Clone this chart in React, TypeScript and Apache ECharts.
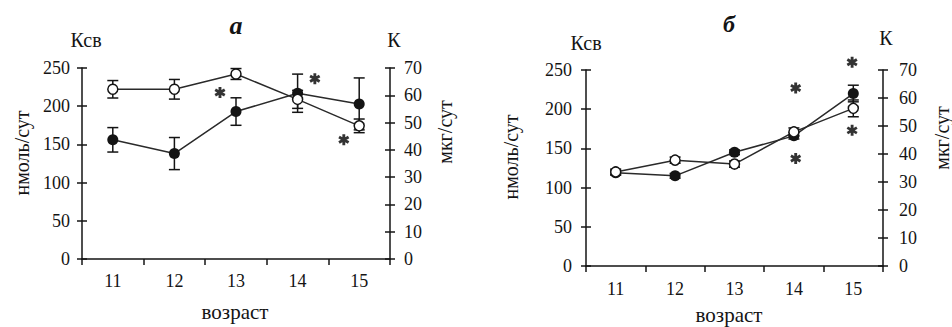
import React, { useEffect, useRef } from "react";
import * as echarts from "echarts";

const categories = ["11", "12", "13", "14", "15"];

// panel а (left axis: Ксв, нмоль/сут ; right axis: К, мкг/сут)
const aKsv = [156, 138, 193, 217, 203];
const aKsvErr = [16, 21, 18, 25, 34];
const aK = [62.2, 62.2, 67.8, 58.5, 48.8];
const aKErr = [3.2, 3.6, 2, 3.3, 2.5];
const aStarX = [12.74, 14.28, 14.75];
const aStarY = [218, 236, 156];

// panel б
const bKsv = [119, 115, 145, 166, 220];
const bKsvErr = [3, 3, 3, 4, 10.6];
const bK = [33.6, 37.8, 36.4, 47.9, 56.3];
const bKErr = [1, 1.1, 1.1, 1.4, 3];
const bStarX = [14.03, 14.03, 14.98, 14.98];
const bStarY = [227, 137, 260, 173];

const leftTicks = { min: 0, max: 250, interval: 50 };
const rightTicks = { min: 0, max: 70, interval: 10 };

const FONT = "Liberation Serif";
const INK = "#141414";

const STAR =
  "path://M-0.26 -1L0.26 -1L0.26 1L-0.26 1Z M0.736 -0.725L0.996 -0.275L-0.736 0.725L-0.996 0.275Z M0.996 0.275L0.736 0.725L-0.996 -0.275L-0.736 -0.725Z";

function errData(vals: number[], errs: number[]) {
  return vals.map((v, i) => [i, v - errs[i], v + errs[i]]);
}

function errSeries(xi: number, yi: number, data: number[][]) {
  return {
    type: "custom",
    xAxisIndex: xi,
    yAxisIndex: yi,
    z: 1,
    encode: { x: 0, y: [1, 2] },
    data,
    renderItem: (_p: any, api: any) => {
      const x = api.value(0);
      const lo = api.coord([x, api.value(1)]);
      const hi = api.coord([x, api.value(2)]);
      const w = 5.5;
      const st = { stroke: INK, lineWidth: 1.5 };
      return {
        type: "group",
        children: [
          { type: "line", shape: { x1: lo[0], y1: lo[1], x2: hi[0], y2: hi[1] }, style: st },
          { type: "line", shape: { x1: lo[0] - w, y1: lo[1], x2: lo[0] + w, y2: lo[1] }, style: st },
          { type: "line", shape: { x1: hi[0] - w, y1: hi[1], x2: hi[0] + w, y2: hi[1] }, style: st },
        ],
      };
    },
  };
}

function lineSeries(xi: number, yi: number, data: number[], filled: boolean) {
  return {
    type: "line",
    xAxisIndex: xi,
    yAxisIndex: yi,
    data,
    z: 3,
    symbol: "circle",
    symbolSize: filled ? 11 : 10,
    lineStyle: { color: "#2a2a2a", width: 1.5 },
    itemStyle: filled
      ? { color: INK, borderColor: INK, borderWidth: 0 }
      : { color: "#ffffff", borderColor: INK, borderWidth: 1.5 },
  };
}

function starSeries(xi: number, yi: number, xs: number[], ys: number[]) {
  return {
    type: "scatter",
    xAxisIndex: xi,
    yAxisIndex: yi,
    clip: false,
    z: 4,
    symbol: STAR,
    symbolSize: 11,
    itemStyle: { color: "#000" },
    data: xs.map((x, i) => [x, ys[i]]),
  };
}

function catAxis(gi: number, margin: number) {
  return {
    type: "category",
    gridIndex: gi,
    position: "bottom",
    data: categories,
    boundaryGap: true,
    axisLine: { lineStyle: { color: INK, width: 1.5 } },
    axisTick: { show: true, length: 6, alignWithLabel: false, lineStyle: { color: INK, width: 1.5 } },
    axisLabel: { fontFamily: FONT, fontSize: 18, color: INK, margin },
    splitLine: { show: false },
  };
}

function hiddenX(gi: number) {
  return { type: "value", gridIndex: gi, position: "bottom", min: 10.5, max: 15.5, show: false, splitLine: { show: false } };
}

function yAx(gi: number, pos: "left" | "right", t: any, margin: number, inside: boolean) {
  return {
    type: "value",
    gridIndex: gi,
    position: pos,
    min: t.min,
    max: t.max,
    interval: t.interval,
    axisLine: { show: !inside, onZero: false, lineStyle: { color: INK, width: 1.5 } },
    axisTick: { show: true, inside, length: 5, lineStyle: { color: INK, width: 1.5 } },
    axisLabel: { show: !inside, fontFamily: FONT, fontSize: 18, color: INK, margin },
    splitLine: { show: false },
  };
}

function txt(text: string, x: number, y: number, size: number, extra: any = {}) {
  const style: any = {
    text,
    fill: INK,
    fontFamily: FONT,
    fontSize: size,
    textAlign: "center",
    textVerticalAlign: "middle",
  };
  if (extra.style) style.fontStyle = extra.style;
  if (extra.weight) style.fontWeight = extra.weight;
  return { type: "text", x, y, rotation: extra.rotation || 0, style };
}

function buildOption() {
  return {
    animation: false,
    backgroundColor: "#ffffff",
    grid: [
      { left: 82, top: 68, width: 308, height: 191 },
      { left: 586, top: 70, width: 297, height: 196 },
    ],
    xAxis: [catAxis(0, 13), hiddenX(0), catAxis(1, 14), hiddenX(1)],
    yAxis: [
      yAx(0, "left", leftTicks, 12, false),
      yAx(0, "left", leftTicks, 12, true),
      yAx(0, "right", rightTicks, 14, false),
      yAx(0, "right", rightTicks, 14, true),
      yAx(1, "left", leftTicks, 14, false),
      yAx(1, "left", leftTicks, 14, true),
      yAx(1, "right", rightTicks, 16, false),
      yAx(1, "right", rightTicks, 16, true),
    ],
    series: [
      errSeries(0, 0, errData(aKsv, aKsvErr)),
      errSeries(0, 2, errData(aK, aKErr)),
      lineSeries(0, 0, aKsv, true),
      lineSeries(0, 2, aK, false),
      starSeries(1, 0, aStarX, aStarY),
      errSeries(2, 4, errData(bKsv, bKsvErr)),
      errSeries(2, 6, errData(bK, bKErr)),
      lineSeries(2, 4, bKsv, true),
      lineSeries(2, 6, bK, false),
      starSeries(3, 4, bStarX, bStarY),
    ],
    graphic: [
      txt("а", 236, 25, 26, { style: "italic", weight: "bold" }),
      txt("б", 729, 24, 24, { style: "italic", weight: "bold" }),
      txt("Ксв", 86, 40, 20),
      txt("К", 394, 40, 20),
      txt("Ксв", 586, 43, 20),
      txt("К", 886, 38, 20),
      txt("нмоль/сут", 22, 153, 20, { rotation: Math.PI / 2 }),
      txt("мкг/сут", 445, 132, 20, { rotation: Math.PI / 2 }),
      txt("нмоль/сут", 511, 157, 20, { rotation: Math.PI / 2 }),
      txt("мкг/сут", 942, 138, 20, { rotation: Math.PI / 2 }),
      txt("возраст", 235, 312, 21),
      txt("возраст", 729, 315, 21),
    ],
  };
}

export default function App() {
  const ref = useRef<HTMLDivElement>(null);
  useEffect(() => {
    if (!ref.current) return;
    const chart = echarts.init(ref.current, undefined, { renderer: "svg" });
    chart.setOption(buildOption());
    return () => chart.dispose();
  }, []);
  return <div ref={ref} style={{ position: "fixed", left: 0, top: 0, width: 952, height: 327 }} />;
}
